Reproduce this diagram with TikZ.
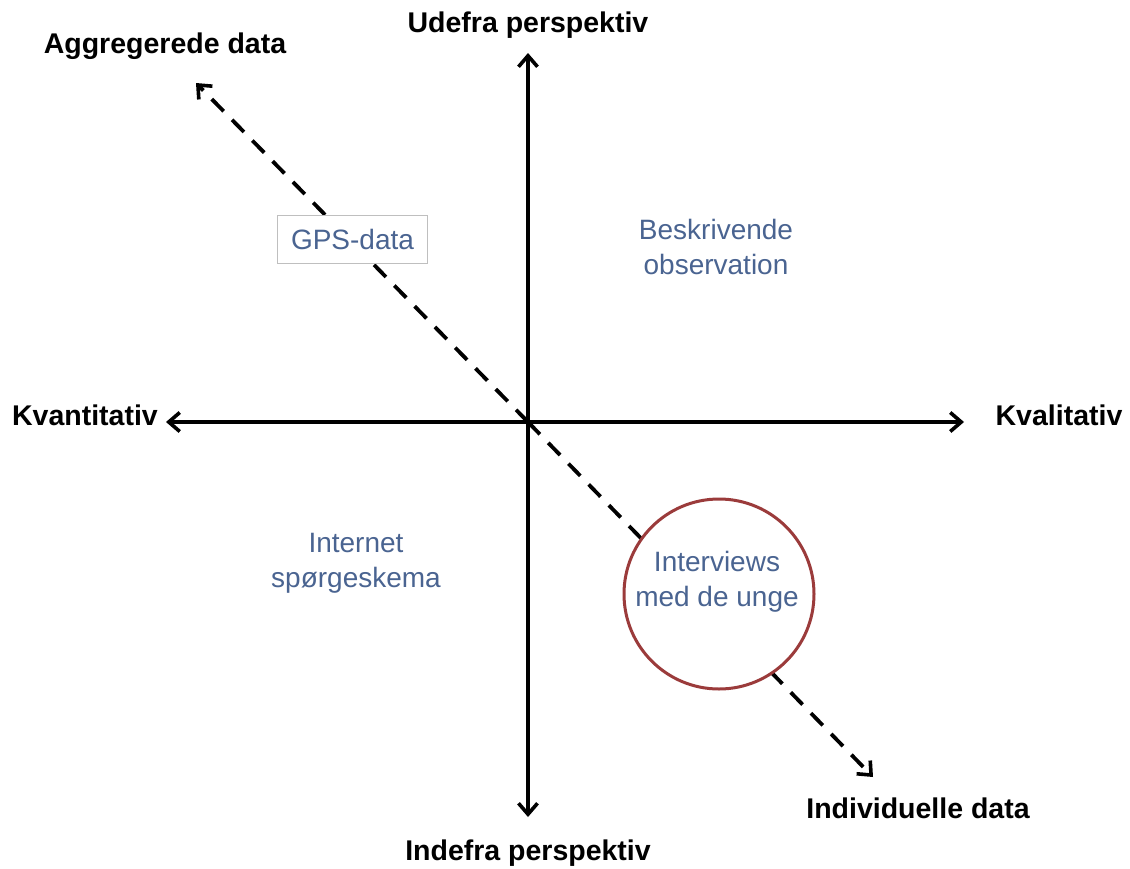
\documentclass[tikz,border=0pt]{standalone}
\usepackage{fontspec}
\setmainfont{Liberation Sans}
\usetikzlibrary{arrows.meta}
\definecolor{txtblue}{HTML}{4A6491}
\definecolor{circred}{HTML}{9B3B3B}
\tikzset{
  axis/.style={line width=3.4pt,-{Straight Barb[length=11pt,width=19pt,line width=3.6pt]}},
  diag/.style={line width=3.8pt,dash pattern=on 17pt off 12pt,-{Straight Barb[length=11pt,width=19pt,line width=3.6pt]}},
  lbl/.style={font=\fontsize{28.5}{32}\selectfont\bfseries,inner sep=0pt},
  blu/.style={font=\fontsize{28}{35}\selectfont,text=txtblue,align=center,inner sep=0pt},
}
\begin{document}
\begin{tikzpicture}[x=1pt,y=-1pt]
\useasboundingbox[fill=white] (0,0) rectangle (1130,868);
\coordinate (O) at (528,422);
\coordinate (T) at (528,53);
\coordinate (B) at (528,817);
\coordinate (L) at (166,422);
\coordinate (R) at (964,422);
\coordinate (AG) at (196,83);
\coordinate (IN) at (873,777);
\draw[axis] (O) -- (T);
\draw[axis] (O) -- (B);
\draw[axis] (O) -- (L);
\draw[axis] (O) -- (R);
\draw[diag] (O) -- (AG);
\draw[diag] (O) -- (IN);
\node[lbl] (udefra) at (528,25) {Udefra perspektiv};
\node[lbl] (indefra) at (528,853) {Indefra perspektiv};
\node[lbl] (kvant) at (85,415) {Kvantitativ};
\node[lbl] (kval) at (1059,415) {Kvalitativ};
\node[lbl] (aggr) at (165,46) {Aggregerede data};
\node[lbl] (indiv) at (918,808) {Individuelle data};
\node[draw=black!25,line width=1pt,fill=white,minimum width=150pt,minimum height=48pt,inner sep=0pt,font=\fontsize{28}{32}\selectfont,text=txtblue] (gps) at (352.5,239.5) {GPS-data};
\node[blu] (besk) at (716,247) {Beskrivende\\observation};
\node[blu] (inet) at (356,563) {Internet\\spørgeskema};
\node[circle,draw=circred,line width=3pt,fill=white,minimum size=190pt,inner sep=0pt] (circ) at (719,594) {};
\node[blu] (intv) at (717,582) {Interviews\\med de unge};
\end{tikzpicture}
\end{document}
